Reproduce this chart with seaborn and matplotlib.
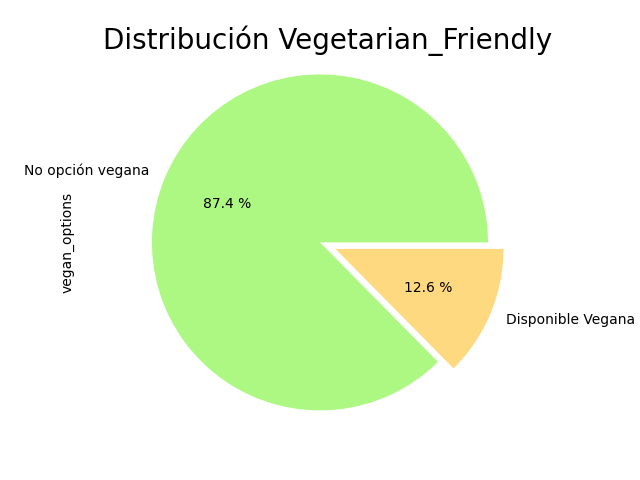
import matplotlib
matplotlib.use("Agg")
import matplotlib.pyplot as plt
import seaborn as sns
import pandas as pd

categories = ["No opción vegana", "Disponible Vegana"]
percentages = [87.4, 12.6]
colors = ["#adf783", "#ffd97f"]
explode_vals = [0, 0.1]

plt.rcParams['font.family'] = ['DejaVu Sans']

s = pd.Series(percentages, index=categories, name="vegan_options")
fig, ax = plt.subplots(figsize=(6.4, 4.8), dpi=100)
ax.pie(s.values, labels=s.index, colors=colors, explode=explode_vals,
       autopct='%.1f %%', startangle=0)
ax.set_aspect('equal', adjustable='datalim')
ax.set_xlim(-1.052, 1.148)
ax.set_ylim(-1.1, 1.1)
ax.set_ylabel("vegan_options")
ax.set_title("Distribución Vegetarian_Friendly", fontsize=20)
fig.savefig("out.png", dpi=100)
